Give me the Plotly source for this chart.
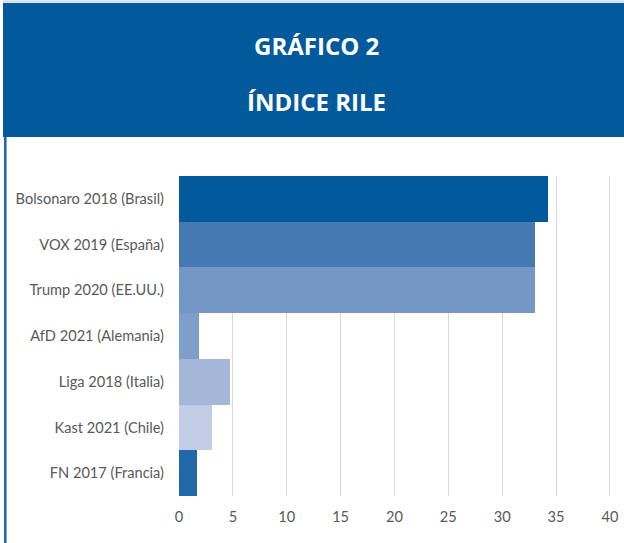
"""Gráfico 2 - Índice RILE

Horizontal bar chart of the RILE index for several right-wing parties/candidates
"""

import plotly.graph_objects as go

W, H = 624, 543

# data
labels = ["Bolsonaro 2018 (Brasil)", "VOX 2019 (España)", "Trump 2020 (EE.UU.)",
          "AfD 2021 (Alemania)", "Liga 2018 (Italia)", "Kast 2021 (Chile)",
          "FN 2017 (Francia)"]
rile = [34.25, 33.05, 33.05, 1.85, 4.75, 3.05, 1.65]
colors = ["#02599C", "#4479B1", "#7597C5", "#7F9FCB", "#A5B7D9", "#C1CDE5", "#2068A9"]
x_ticks = [0, 5, 10, 15, 20, 25, 30, 35, 40]

# plot area in pixels
L, R, T, B = 179, 611, 176, 496


def px(x):
    return (x - L) / (R - L)


def py(y):
    return (B - y) / (B - T)


fig = go.Figure()
fig.add_bar(
    y=labels,
    x=rile,
    orientation="h",
    marker=dict(color=colors, line=dict(width=0)),
    hoverinfo="x+y",
)

# header band, frame lines and title
header = "#02599C"
fig.add_shape(type="rect", xref="paper", yref="paper",
              x0=px(3), x1=px(W + 2), y0=py(3), y1=py(137),
              fillcolor=header, line=dict(width=0), layer="above")
fig.add_shape(type="line", xref="paper", yref="paper",
              x0=px(5.3), x1=px(5.3), y0=py(137), y1=py(H + 2),
              line=dict(color="#1B64A8", width=2.5))
fig.add_shape(type="line", xref="paper", yref="paper",
              x0=px(3), x1=px(W + 2), y0=py(1.5), y1=py(1.5),
              line=dict(color="#C9D9EA", width=2))

for text, y in [("GRÁFICO 2", 45), ("ÍNDICE RILE", 101)]:
    fig.add_annotation(text=text, xref="paper", yref="paper",
                       x=px(316), y=py(y), xanchor="center", yanchor="middle",
                       showarrow=False,
                       font=dict(family="Open Sans", size=24, color="white",
                                 weight="bold"))

fig.update_layout(
    width=W, height=H,
    autosize=False,
    margin=dict(l=L, r=W - R, t=T, b=H - B, pad=0),
    paper_bgcolor="white",
    plot_bgcolor="white",
    bargap=0,
    showlegend=False,
    font=dict(family="Lato", size=14.6, color="#595959"),
)

# range a hair past 40 so the last gridline is drawn
fig.update_xaxes(range=[0, 40.1], tickvals=x_ticks, showgrid=True,
                 gridcolor="#D9D9D9", gridwidth=1.3, zeroline=False,
                 showline=False, ticks="", ticklabelstandoff=10,
                 automargin=False, fixedrange=True)
fig.update_yaxes(autorange="reversed", showgrid=False, zeroline=False,
                 showline=False, ticks="", ticklabelstandoff=14,
                 automargin=False, fixedrange=True)

# page body margin would shift the chart by 8px
fig.write_html(
    "out.html",
    config=dict(displayModeBar=False, responsive=False),
    post_script="document.body.style.margin = '0';"
                "document.body.style.overflow = 'hidden';",
)
